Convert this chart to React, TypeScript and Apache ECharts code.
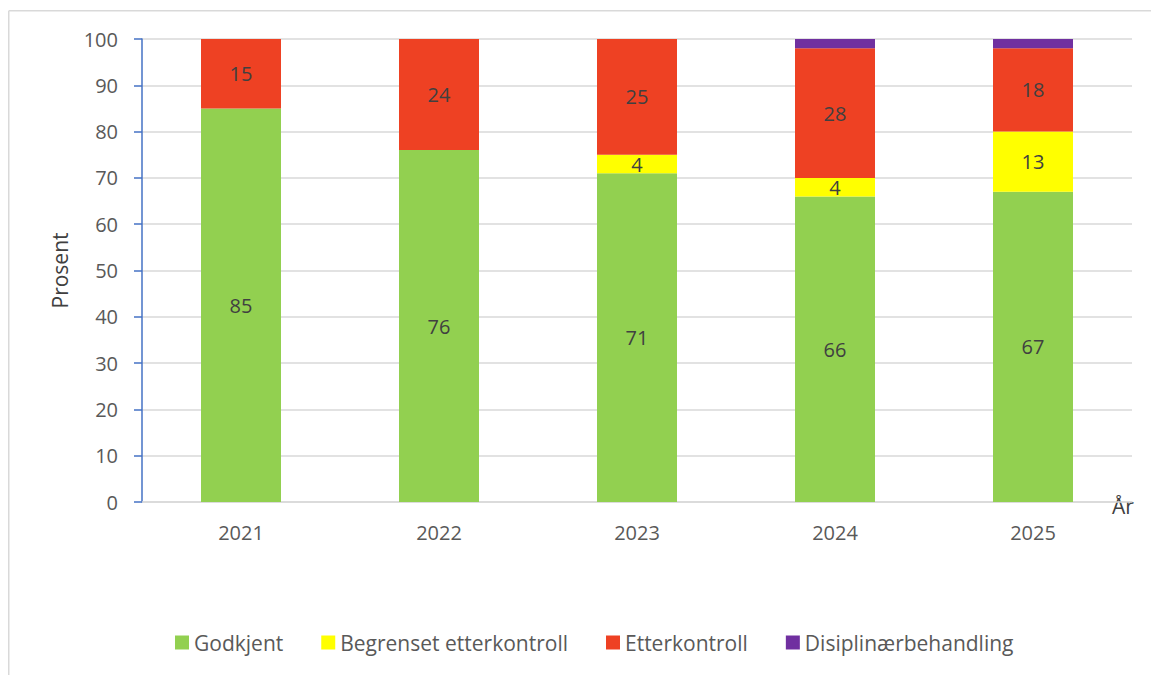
import React, { useEffect, useRef } from "react";
import * as echarts from "echarts";

const years = ["2021", "2022", "2023", "2024", "2025"];
const godkjent = [85, 76, 71, 66, 67];
const begrenset = [0, 0, 4, 4, 13];
const etterkontroll = [15, 24, 25, 28, 18];
const disiplinaer = [0, 0, 0, 2, 2];
const yTicks = [0, 10, 20, 30, 40, 50, 60, 70, 80, 90, 100];

const FONT = "Open Sans";

export default function App() {
  const ref = useRef<HTMLDivElement>(null);
  useEffect(() => {
    const chart = echarts.init(ref.current!, null, { renderer: "svg" });
    const label = (min: number) => ({
      show: true,
      position: "inside",
      color: "#404040",
      fontSize: 20,
      fontFamily: FONT,
      formatter: (p: any) => (p.value >= min ? String(p.value) : ""),
    });
    const mk = (name: string, data: number[], color: string, minLabel: number) => ({
      name,
      type: "bar",
      stack: "total",
      data,
      barWidth: 80,
      itemStyle: { color },
      label: label(minLabel),
    });
    chart.setOption({
      animation: false,
      backgroundColor: "#fff",
      textStyle: { fontFamily: FONT },
      grid: { left: 142, right: 19, top: 39, bottom: 173, containLabel: false },
      legend: {
        top: 627,
        left: 170,
        itemWidth: 14,
        itemHeight: 14,
        itemGap: 38,
        icon: "rect",
        textStyle: { fontSize: 21, color: "#595959", fontFamily: FONT, padding: [0, 0, 0, 0] },
        data: ["Godkjent", "Begrenset etterkontroll", "Etterkontroll", "Disiplinærbehandling"],
      },
      xAxis: {
        type: "category",
        data: years,
        name: "År",
        nameLocation: "end",
        nameGap: -20,
        nameTextStyle: { fontSize: 21, color: "#404040", fontFamily: FONT, verticalAlign: "bottom", padding: [0, 0, -14, 0] },
        axisLine: { show: true, lineStyle: { color: "#d9d9d9", width: 1.5 } },
        axisTick: { show: false },
        axisLabel: { fontSize: 20, color: "#595959", margin: 20, fontFamily: FONT },
      },
      yAxis: {
        type: "value",
        min: 0,
        max: 100,
        interval: 10,
        name: "Prosent",
        nameLocation: "middle",
        nameGap: 72,
        nameRotate: 90,
        nameTextStyle: { fontSize: 21, color: "#404040", fontFamily: FONT },
        axisLine: { show: true, lineStyle: { color: "#4472C4", width: 1.5 } },
        axisTick: { show: true, inside: false, length: 8, lineStyle: { color: "#4472C4", width: 1.5 } },
        axisLabel: {
          fontSize: 20,
          color: "#595959",
          margin: 24,
          fontFamily: FONT,
          formatter: (v: number) => (yTicks.includes(v) ? String(v) : ""),
        },
        splitLine: { show: true, lineStyle: { color: "#d9d9d9", width: 1.5 } },
      },
      series: [
        mk("Godkjent", godkjent, "#92D050", 1),
        mk("Begrenset etterkontroll", begrenset, "#FFFF00", 1),
        mk("Etterkontroll", etterkontroll, "#EE4123", 1),
        mk("Disiplinærbehandling", disiplinaer, "#7030A0", 3),
      ],
      graphic: [
        {
          type: "line",
          shape: { x1: 8.75, y1: 10.75, x2: 1151, y2: 10.75 },
          style: { stroke: "#d9d9d9", lineWidth: 1.5 },
          silent: true,
        },
        {
          type: "line",
          shape: { x1: 8.75, y1: 10.75, x2: 8.75, y2: 675 },
          style: { stroke: "#d9d9d9", lineWidth: 1.5 },
          silent: true,
        },
      ],
    });
    return () => chart.dispose();
  }, []);
  return (
    <div
      ref={ref}
      style={{ position: "fixed", left: 0, top: 0, width: 1151, height: 675, overflow: "hidden" }}
    />
  );
}
